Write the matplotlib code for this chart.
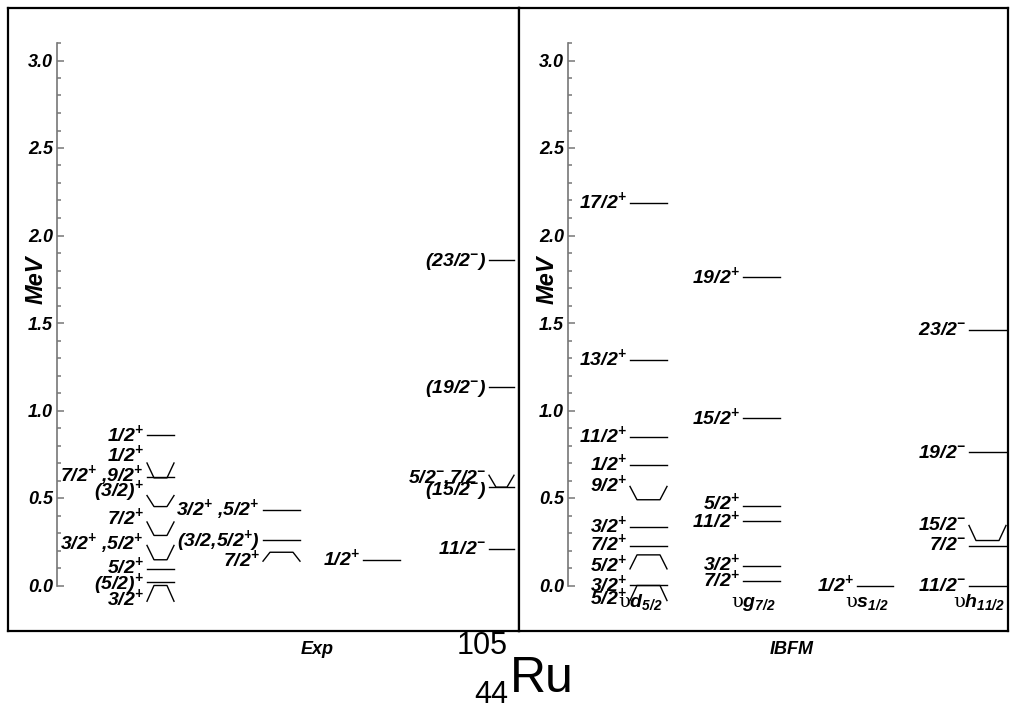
import numpy as np
import matplotlib.pyplot as plt
from matplotlib.transforms import offset_copy

plt.rcParams['font.family'] = ['Liberation Sans', 'DejaVu Sans']
plt.rcParams['mathtext.fontset'] = 'custom'
plt.rcParams['mathtext.rm'] = 'Liberation Sans:bold:italic'
plt.rcParams['mathtext.it'] = 'Liberation Sans:bold:italic'
plt.rcParams['mathtext.bf'] = 'Liberation Sans:bold:italic'

P = '$^{+}$'
M = '$^{-}$'

# ---- experiment (MeV) ----
exp1_E = [0.861, 0.615, 0.62, 0.451, 0.286, 0.147, 0.095, 0.02, 0.0]
exp1_J = ['1/2' + P, '1/2' + P, '7/2' + P + ' ,9/2' + P, '(3/2)' + P, '7/2' + P,
          '3/2' + P + ' ,5/2' + P, '5/2' + P, '(5/2)' + P, '3/2' + P]
exp2_E = [0.429, 0.261, 0.19]
exp2_J = ['3/2' + P + ' ,5/2' + P, '(3/2,5/2' + P + ')', '7/2' + P]
exp3_E = [0.143]
exp3_J = ['1/2' + P]
exp4_E = [1.861, 1.133, 0.562, 0.562, 0.21]
exp4_J = ['(23/2' + M + ')', '(19/2' + M + ')', '5/2' + M + ',7/2' + M, '(15/2' + M + ')', '11/2' + M]

# ---- IBFM (MeV) ----
d52_E = [2.187, 1.291, 0.851, 0.691, 0.49, 0.333, 0.225, 0.175, 0.005, 0.0]
d52_J = ['17/2' + P, '13/2' + P, '11/2' + P, '1/2' + P, '9/2' + P, '3/2' + P,
         '7/2' + P, '5/2' + P, '3/2' + P, '5/2' + P]
g72_E = [1.762, 0.956, 0.457, 0.367, 0.109, 0.025]
g72_J = ['19/2' + P, '15/2' + P, '5/2' + P, '11/2' + P, '3/2' + P, '7/2' + P]
s12_E = [0.0]
s12_J = ['1/2' + P]
h112_E = [1.461, 0.762, 0.257, 0.223, 0.0]
h112_J = ['23/2' + M, '19/2' + M, '15/2' + M, '7/2' + M, '11/2' + M]
band_names = ['υ$d_{5/2}$', 'υ$g_{7/2}$', 'υ$s_{1/2}$', 'υ$h_{11/2}$']

# ---- layout: where the line ends bend to and where labels sit ----
exp1_kink = [0.861, 0.70, 0.62, 0.514, 0.363, 0.229, 0.095, 0.02, -0.09]
exp1_lab = [0.861, 0.743, 0.629, 0.546, 0.386, 0.243, 0.105, 0.016, -0.076]
exp2_kink = [0.429, 0.261, 0.139]
exp2_lab = [0.44, 0.26, 0.146]
exp3_kink = [0.143]
exp3_lab = [0.15]
exp4_kink = [1.861, 1.133, 0.63, 0.562, 0.21]
exp4_lab = [1.861, 1.133, 0.62, 0.55, 0.215]
d52_kink = [2.187, 1.291, 0.851, 0.691, 0.566, 0.333, 0.225, 0.095, 0.005, -0.086]
d52_lab = [2.19, 1.295, 0.855, 0.695, 0.575, 0.338, 0.235, 0.117, 0.004, -0.074]
g72_kink = g72_E
g72_lab = [1.765, 0.96, 0.47, 0.37, 0.12, 0.03]
s12_kink = s12_E
s12_lab = [0.005]
h112_kink = [1.461, 0.762, 0.343, 0.223, 0.0]
h112_lab = [1.465, 0.765, 0.35, 0.235, 0.003]

W, H = 1013, 709
Y0, SC = 585.5, 175.0
fig = plt.figure(figsize=(W / 100, H / 100), dpi=100)


def px_axes(x0, x1, y0, y1):
    ax = fig.add_axes([x0 / W, 1 - y1 / H, (x1 - x0) / W, (y1 - y0) / H])
    ax.set_xlim(x0, x1)
    ax.set_ylim((Y0 - y1) / SC, (Y0 - y0) / SC)
    ax.set_xticks([])
    ax.set_yticks([])
    for s in ax.spines.values():
        s.set_linewidth(1.6)
    return ax


def energy_axis(ax, xpos, x0, x1):
    sec = ax.secondary_yaxis((xpos - x0) / (x1 - x0))
    sec.spines['left'].set_bounds(0, 3.1)
    sec.spines['left'].set_color('#777777')
    sec.spines['left'].set_linewidth(1.2)
    major = np.arange(0, 3.01, 0.5)
    sec.set_yticks(np.arange(0, 3.11, 0.1), minor=True)
    sec.set_yticks(major)
    sec.set_yticklabels(['%.1f' % v for v in major], fontsize=13,
                        fontweight='bold', fontstyle='italic')
    sec.tick_params(which='both', direction='in', color='#777777', width=1.1, pad=3)
    sec.tick_params(which='major', length=5)
    sec.tick_params(which='minor', length=3)
    ax.text(xpos - 21, (Y0 - 280) / SC, 'MeV', rotation=90, ha='center', va='center',
            fontsize=17, fontweight='bold', fontstyle='italic')


def column(ax, xa, xb, E, J, kink, lab, dx=7):
    tr = offset_copy(ax.transData, fig=fig, y=-6, units='dots')
    for e, j, k, l in zip(E, J, kink, lab):
        if abs(k - e) < 1e-9:
            ax.plot([xa, xb], [e, e], color='k', lw=1)
        else:
            ax.plot([xa, xa + dx, xb - dx, xb], [k, e, e, k], color='k', lw=1)
        ax.text(xa - 3, l, j, transform=tr, ha='right', va='baseline', fontsize=14,
                fontweight='bold', fontstyle='italic')


axL = px_axes(8.3, 519, 8.3, 630.7)
axR = px_axes(519, 1008, 8.3, 630.7)
energy_axis(axL, 57, 8.3, 519)
energy_axis(axR, 568, 519, 1008)

column(axL, 147, 174, exp1_E, exp1_J, exp1_kink, exp1_lab)
column(axL, 263, 300, exp2_E, exp2_J, exp2_kink, exp2_lab)
column(axL, 363, 400, exp3_E, exp3_J, exp3_kink, exp3_lab)
column(axL, 489, 514, exp4_E, exp4_J, exp4_kink, exp4_lab)

ibfm_cols = [(630, 667), (743, 780), (857, 893), (969, 1006)]
column(axR, 630, 667, d52_E, d52_J, d52_kink, d52_lab)
column(axR, 743, 780, g72_E, g72_J, g72_kink, g72_lab)
column(axR, 857, 893, s12_E, s12_J, s12_kink, s12_lab)
column(axR, 969, 1006, h112_E, h112_J, h112_kink, h112_lab)
for (xa, xb), name in zip(ibfm_cols, band_names):
    axR.text((xa + xb) / 2 - 8, (Y0 - 607) / SC, name, ha='center', va='baseline',
             fontsize=14, family=['DejaVu Serif'])

fig.text(317 / W, 1 - 650 / H, 'Exp', ha='center', va='center', fontsize=13,
         fontweight='bold', fontstyle='italic')
fig.text(792 / W, 1 - 650 / H, 'IBFM', ha='center', va='center', fontsize=13,
         fontweight='bold', fontstyle='italic')
fig.text(508 / W, 1 - 646 / H, '105', ha='right', va='center', fontsize=22)
fig.text(508 / W, 1 - 695 / H, '44', ha='right', va='center', fontsize=22)
fig.text(510 / W, 1 - 692 / H, 'Ru', ha='left', va='baseline', fontsize=36)

fig.savefig('out.png', dpi=100)
